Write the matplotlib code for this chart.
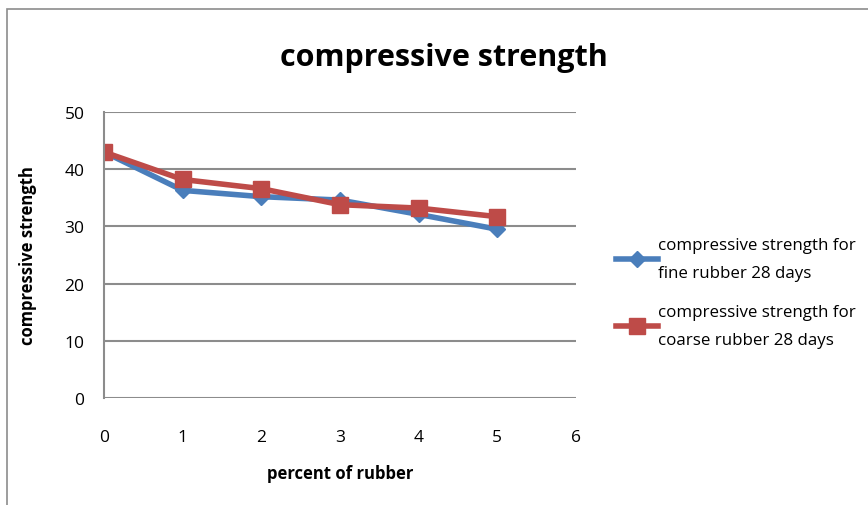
import matplotlib
matplotlib.use("Agg")
import matplotlib.pyplot as plt
from matplotlib.patches import Rectangle
from matplotlib.lines import Line2D

plt.rcParams['font.family'] = ['Open Sans', 'DejaVu Sans']

# data
percent = [0, 1, 2, 3, 4, 5]
fine_28 = [43.0, 36.3, 35.2, 34.6, 32.1, 29.5]
coarse_28 = [43.0, 38.2, 36.6, 33.8, 33.2, 31.7]
labels = ["compressive strength for\nfine rubber 28 days",
          "compressive strength for\ncoarse rubber 28 days"]

blue = "#4a7ebb"
red = "#be4b48"

fig = plt.figure(figsize=(8.68, 5.06), dpi=100)
ax = fig.add_axes([104/868, 1-399/506, (576-104)/868, (399-113)/506])

# outer chart border like the spreadsheet frame
fig.patches.append(Rectangle((7/868, -0.05), 1.0, 1-10/506+0.05, transform=fig.transFigure,
                             fill=False, edgecolor="#8c8c8c", linewidth=1.2))

ax.plot(percent, fine_28, color=blue, linewidth=4, marker="D", markersize=8,
        markerfacecolor=blue, markeredgecolor=blue, label=labels[0])
ax.plot(percent, coarse_28, color=red, linewidth=4, marker="s", markersize=11,
        markerfacecolor=red, markeredgecolor=red, label=labels[1])

ax.set_xlim(0, 6)
ax.set_ylim(0, 50)
ax.set_xticks(range(0, 7))
ax.set_yticks(range(0, 51, 10))
ax.yaxis.grid(True, color="#8c8c8c", linewidth=1.5)
ax.set_axisbelow(True)
for s in ["top", "right", "bottom"]:
    ax.spines[s].set_visible(False)
ax.spines["left"].set_color("#8c8c8c")
ax.spines["left"].set_linewidth(1.5)
ax.tick_params(length=0, labelsize=12.5)
ax.tick_params(axis="y", pad=14)
ax.tick_params(axis="x", pad=22)

ax.set_xlabel("percent of rubber", fontsize=12, fontweight="bold", labelpad=14)
ax.set_ylabel("compressive strength", fontsize=12, fontweight="bold", labelpad=20)
fig.text(0.511, 1-58/506, "compressive strength", ha="center", va="center",
         fontsize=22, fontweight="bold")

handles = [Line2D([], [], color=blue, linewidth=4, marker="D", markersize=8),
           Line2D([], [], color=red, linewidth=4, marker="s", markersize=11)]
leg = fig.legend(handles, labels, loc="center left", bbox_to_anchor=(0.692, 0.42),
                 frameon=False, fontsize=12.2, handlelength=2.5, handletextpad=0.0,
                 labelspacing=1.4)
for t in leg.get_texts():
    t.set_linespacing(2.0)

plt.savefig("out.png", dpi=100)
